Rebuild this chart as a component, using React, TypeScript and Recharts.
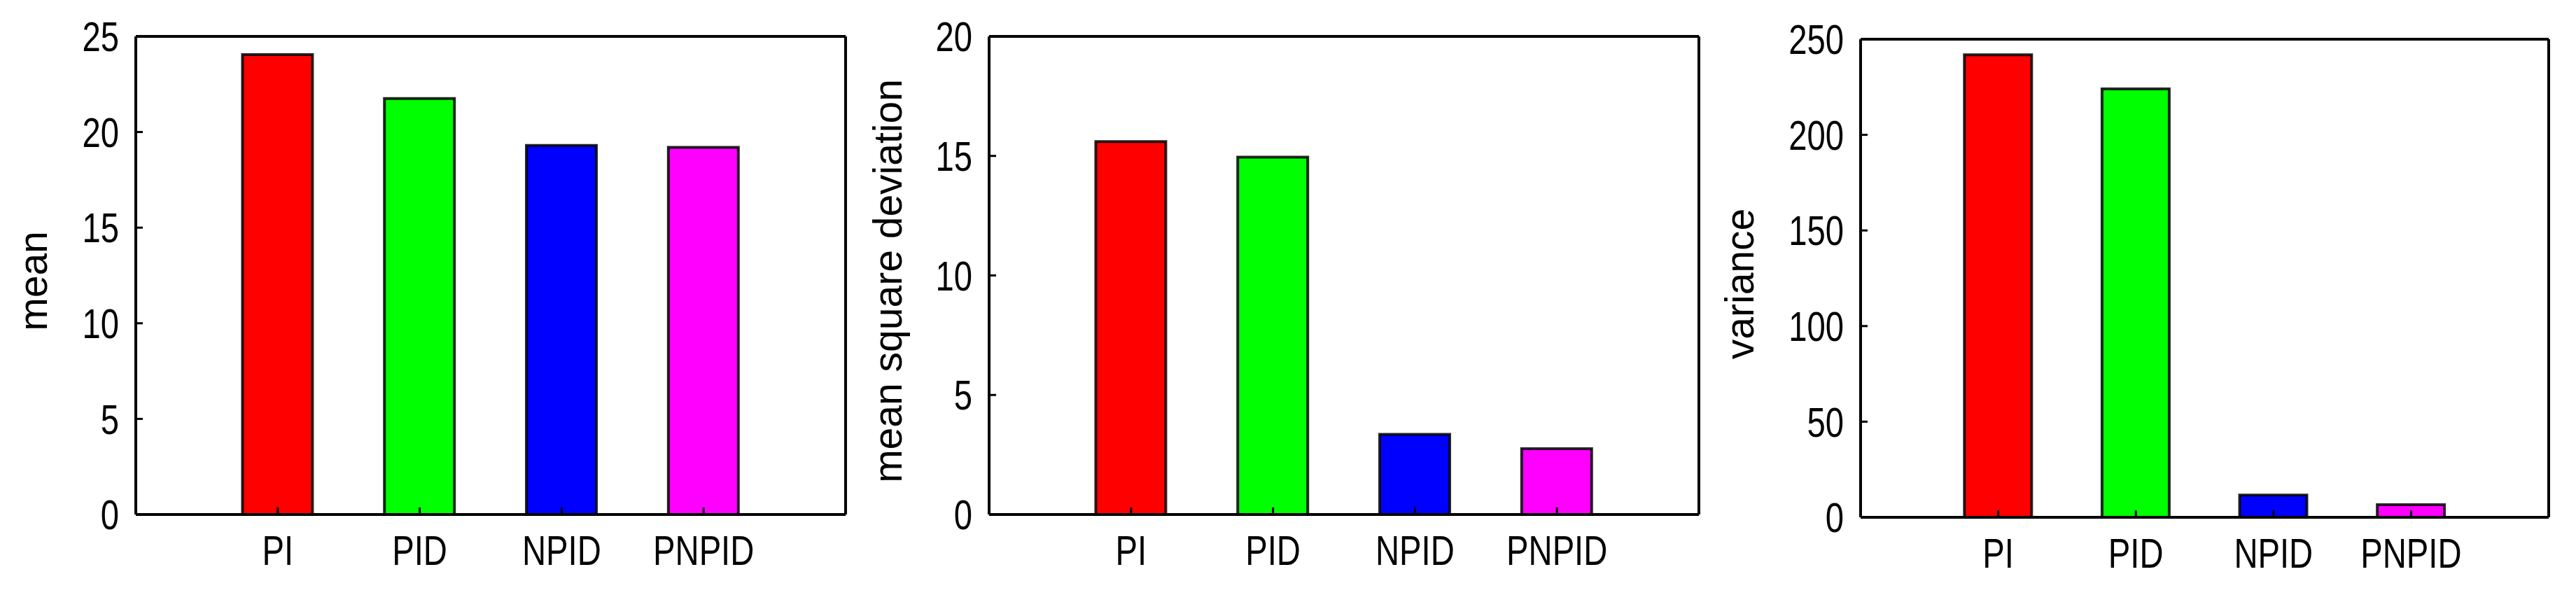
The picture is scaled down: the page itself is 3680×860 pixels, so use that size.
import { BarChart, Bar, XAxis, YAxis, Cell } from "recharts";

document.body.style.margin = "0";

const categories = ["PI", "PID", "NPID", "PNPID"];
const barColors = ["#ff0000", "#00ff00", "#0000ff", "#ff00ff"];

const meanValues = [24.05, 21.75, 19.3, 19.2];
const msdValues = [15.6, 14.95, 3.35, 2.75];
const varianceValues = [241.9, 224, 11.6, 6.6];

const meanTicks = [0, 5, 10, 15, 20, 25];
const msdTicks = [0, 5, 10, 15, 20];
const varianceTicks = [0, 50, 100, 150, 200, 250];

const xTicks = [1, 2, 3, 4];

const textFont = '"Liberation Sans", Arial, sans-serif';

function toRows(values: number[]) {
  return values.map((v, i) => ({ x: i + 1, name: categories[i], value: v }));
}

const axisLine = { stroke: "#000", strokeWidth: 4 };
const tickLine = { stroke: "#000", strokeWidth: 3 };

// narrow helvetica-like tick text, squeezed horizontally
function NarrowTick(props: any) {
  const { x, y, payload, textAnchor, vertical } = props;
  const label = vertical ? String(payload.value) : categories[payload.value - 1] ?? "";
  return (
    <text
      transform={`translate(${x} ${y}) scale(0.8 1)`}
      textAnchor={textAnchor}
      dy={vertical ? "0.36em" : "0.72em"}
      fontFamily={textFont}
      fontSize={59}
      fill="#000"
    >
      {label}
    </text>
  );
}

interface PanelProps {
  left: number;
  width: number;
  top: number;
  bottom: number;
  axisWidth: number;
  right: number;
  labelX: number;
  label: string;
  values: number[];
  ticks: number[];
  barSize: number;
}

function Panel(p: PanelProps) {
  const data = toRows(p.values);
  const max = p.ticks[p.ticks.length - 1];
  const renderLabel = (props: any) => {
    const vb = props.viewBox;
    const cy = vb.y + vb.height / 2 + 8;
    return (
      <text
        x={p.labelX}
        y={cy}
        transform={`rotate(-90 ${p.labelX} ${cy})`}
        textAnchor="middle"
        fontFamily={textFont}
        fontSize={57}
        fill="#000"
      >
        {p.label}
      </text>
    );
  };
  return (
    <div style={{ position: "absolute", left: p.left, top: 0 }}>
      <BarChart
        width={p.width}
        height={860}
        data={data}
        margin={{ top: p.top - 1, right: p.right - 1, bottom: 0, left: 0 }}
      >
        <XAxis
          xAxisId="b"
          dataKey="x"
          type="number"
          domain={[0, 5]}
          ticks={xTicks}
          allowDataOverflow
          height={860 - p.bottom}
          axisLine={axisLine}
          tickLine={tickLine}
          tickSize={-10}
          tickMargin={40}
          tick={<NarrowTick />}
          interval={0}
        />
        <XAxis
          xAxisId="t"
          dataKey="x"
          orientation="top"
          type="number"
          domain={[0, 5]}
          ticks={xTicks}
          allowDataOverflow
          height={1}
          axisLine={axisLine}
          tickLine={tickLine}
          tickSize={-10}
          tick={false}
          interval={0}
        />
        <YAxis
          yAxisId="l"
          type="number"
          domain={[0, max]}
          ticks={p.ticks}
          allowDataOverflow
          width={p.axisWidth}
          axisLine={axisLine}
          tickLine={tickLine}
          tickSize={-10}
          tickMargin={34}
          tick={<NarrowTick vertical />}
          interval={0}
          label={{ value: p.label, content: renderLabel }}
        />
        <YAxis
          yAxisId="r"
          orientation="right"
          type="number"
          domain={[0, max]}
          ticks={p.ticks}
          allowDataOverflow
          width={1}
          axisLine={axisLine}
          tickLine={tickLine}
          tickSize={-10}
          tick={false}
          interval={0}
        />
        <Bar
          xAxisId="b"
          yAxisId="l"
          dataKey="value"
          barSize={p.barSize}
          stroke="#000"
          strokeOpacity={0.85}
          strokeWidth={4}
          isAnimationActive={false}
        >
          {data.map((d, i) => (
            <Cell key={d.name} fill={barColors[i]} />
          ))}
        </Bar>
        {/* invisible twin so the top / right axes have a series attached */}
        <Bar
          xAxisId="t"
          yAxisId="r"
          dataKey="value"
          barSize={1}
          fill="none"
          stroke="none"
          isAnimationActive={false}
        />
      </BarChart>
    </div>
  );
}

export default function App() {
  return (
    <div style={{ position: "relative", width: 3680, height: 860, background: "#fff" }}>
      <Panel
        left={0}
        width={1226}
        top={52}
        bottom={735}
        axisWidth={194}
        right={18}
        labelX={67}
        label="mean"
        values={meanValues}
        ticks={meanTicks}
        barSize={100}
      />
      <Panel
        left={1226}
        width={1226}
        top={52}
        bottom={735}
        axisWidth={187}
        right={25}
        labelX={62}
        label="mean square deviation"
        values={msdValues}
        ticks={msdTicks}
        barSize={100}
      />
      <Panel
        left={2452}
        width={1228}
        top={56}
        bottom={739}
        axisWidth={206}
        right={39}
        labelX={53}
        label="variance"
        values={varianceValues}
        ticks={varianceTicks}
        barSize={96}
      />
    </div>
  );
}
